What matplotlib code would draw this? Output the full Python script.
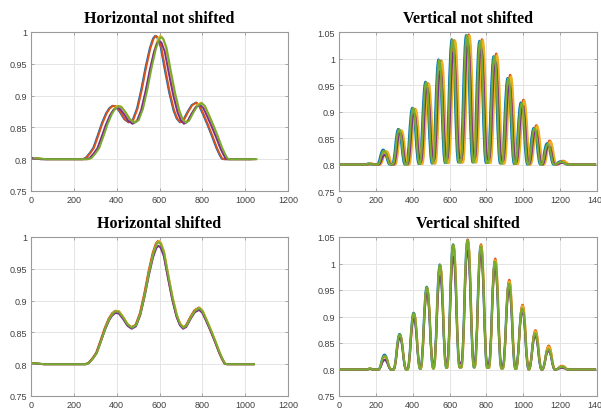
import matplotlib

matplotlib.use("Agg")
import matplotlib.pyplot as plt
from matplotlib.patches import PathPatch
from matplotlib.path import Path
from matplotlib.transforms import Affine2D

# MATLAB default line order: blue, orange, yellow, purple, green
series_colors = ["#0072BD", "#D95319", "#EDB120", "#7E2F8E", "#77AC30"]

# horizontal profile
h_x = [0, 30, 60, 150, 255, 270, 290, 306, 325, 345, 365, 380, 395, 410, 430,
       450, 470, 490, 510, 530, 550, 570, 585, 595, 605, 620, 640, 660, 680,
       695, 710, 725, 745, 765, 785, 800, 820, 840, 860, 880, 895, 905, 915, 1040]
h_y = [0.802, 0.801, 0.800, 0.800, 0.800, 0.802, 0.810, 0.818, 0.836, 0.856,
       0.872, 0.880, 0.884, 0.883, 0.874, 0.863, 0.858, 0.862, 0.880, 0.910,
       0.945, 0.975, 0.990, 0.994, 0.991, 0.977, 0.940, 0.905, 0.877, 0.864,
       0.858, 0.861, 0.874, 0.885, 0.889, 0.884, 0.869, 0.853, 0.836, 0.818,
       0.807, 0.801, 0.800, 0.800]
# per-series x offset and amplitude above the 0.8 baseline
h_offset_raw = [-15, -12, 9, 4, 13]
h_offset_aligned = [0, -2, 2, 0, 1]
h_amp = [1.0, 1.0, 1.0, 0.96, 0.99]

# vertical profile: peak positions, heights per series, trough levels
v_peak_x = [168, 248, 330, 406, 477, 548, 620, 698, 770, 847, 923, 995, 1065, 1137, 1210]
v_peak_blue = [0.802, 0.828, 0.867, 0.907, 0.956, 0.998, 1.036, 1.044, 1.033, 1.004,
               0.963, 0.917, 0.869, 0.840, 0.806]
v_peak_orange = [0.802, 0.824, 0.864, 0.905, 0.953, 0.996, 1.034, 1.045, 1.036, 1.009,
                 0.969, 0.922, 0.874, 0.845, 0.807]
v_peak_yellow = [0.802, 0.825, 0.864, 0.904, 0.952, 0.994, 1.033, 1.043, 1.034, 1.006,
                 0.966, 0.920, 0.872, 0.843, 0.806]
v_peak_purple = [0.801, 0.818, 0.860, 0.896, 0.944, 0.976, 1.012, 1.025, 1.018, 0.993,
                 0.950, 0.910, 0.863, 0.835, 0.803]
v_peak_green = [0.802, 0.826, 0.866, 0.906, 0.955, 0.997, 1.035, 1.043, 1.032, 1.003,
                0.962, 0.915, 0.868, 0.838, 0.805]
v_trough = [0.800, 0.800, 0.800, 0.801, 0.802, 0.803, 0.804, 0.804, 0.803, 0.802,
            0.801, 0.800, 0.800, 0.800]
v_trough_purple = [0.800, 0.800, 0.801, 0.804, 0.807, 0.810, 0.812, 0.812, 0.810, 0.807,
                   0.804, 0.801, 0.800, 0.800]
v_offset_raw = [-8, 6, 10, 1, -4]
v_offset_aligned = [-1, 1, 1, 0, 0]
v_x_end = 1395

h_xticks = [0, 200, 400, 600, 800, 1000, 1200]
h_yticks = [0.75, 0.8, 0.85, 0.9, 0.95, 1.0]
h_ylabels = ["0.75", "0.8", "0.85", "0.9", "0.95", "1"]
v_xticks = [0, 200, 400, 600, 800, 1000, 1200, 1400]
v_yticks = [0.75, 0.8, 0.85, 0.9, 0.95, 1.0, 1.05]
v_ylabels = ["0.75", "0.8", "0.85", "0.9", "0.95", "1", "1.05"]

plt.rcParams["font.family"] = ["Liberation Sans", "DejaVu Sans"]


def style_axes(ax, title, xticks, yticks, ylabels):
    ax.set_xlim(xticks[0], xticks[-1])
    ax.set_ylim(yticks[0], yticks[-1])
    ax.set_xticks(xticks)
    ax.set_xticklabels([str(t) for t in xticks])
    ax.set_yticks(yticks)
    ax.set_yticklabels(ylabels)
    ax.grid(True, color="#e4e4e4", linewidth=0.7)
    ax.set_axisbelow(True)
    ax.tick_params(direction="in", length=2.5, width=0.6, color="#9a9a9a",
                   labelcolor="#404040", labelsize=6.5, top=True, right=True, pad=3)
    for spine in ax.spines.values():
        spine.set_color("#9a9a9a")
        spine.set_linewidth(0.8)
    ax.set_title(title, family="Liberation Serif", fontweight="bold", fontsize=11.5, pad=7)


def draw_horizontal(ax, offsets):
    for color, dx, amp in zip(series_colors, offsets, h_amp):
        tr = Affine2D().translate(0, -0.8).scale(1, amp).translate(dx, 0.8) + ax.transData
        ax.plot(h_x, h_y, color=color, linewidth=1.4, transform=tr)


def bump_path(peaks_x, heights, troughs, dx):
    verts = [(0, 0.8)]
    codes = [Path.MOVETO]
    n = len(peaks_x)
    for i in range(n):
        px = peaks_x[i] + dx
        h = heights[i]
        w = 15 if i == 0 else 35
        left_y = troughs[i - 1] if i > 0 else 0.8
        right_y = troughs[i] if i < n - 1 else 0.8
        verts += [(px - w, left_y),
                  (px - 0.55 * w, left_y), (px - 0.45 * w, h), (px, h),
                  (px + 0.45 * w, h), (px + 0.55 * w, right_y), (px + w, right_y)]
        codes += [Path.LINETO] + [Path.CURVE4] * 6
    verts.append((v_x_end, 0.8))
    codes.append(Path.LINETO)
    return Path(verts, codes)


def draw_vertical(ax, offsets):
    peaks = [v_peak_blue, v_peak_orange, v_peak_yellow, v_peak_purple, v_peak_green]
    troughs = [v_trough, v_trough, v_trough, v_trough_purple, v_trough]
    for color, heights, tr, dx in zip(series_colors, peaks, troughs, offsets):
        patch = PathPatch(bump_path(v_peak_x, heights, tr, dx), fill=False,
                          edgecolor=color, linewidth=1.5)
        ax.add_patch(patch)


fig = plt.figure(figsize=(6.01, 4.10), dpi=100)
ax_tl = fig.add_axes([31 / 601, 1 - 192 / 410, 257 / 601, 159 / 410])
ax_tr = fig.add_axes([339 / 601, 1 - 192 / 410, 258 / 601, 159 / 410])
ax_bl = fig.add_axes([31 / 601, 1 - 397 / 410, 257 / 601, 159 / 410])
ax_br = fig.add_axes([339 / 601, 1 - 397 / 410, 258 / 601, 159 / 410])

draw_horizontal(ax_tl, h_offset_raw)
draw_horizontal(ax_bl, h_offset_aligned)
draw_vertical(ax_tr, v_offset_raw)
draw_vertical(ax_br, v_offset_aligned)

style_axes(ax_tl, "Horizontal not shifted", h_xticks, h_yticks, h_ylabels)
style_axes(ax_bl, "Horizontal shifted", h_xticks, h_yticks, h_ylabels)
style_axes(ax_tr, "Vertical not shifted", v_xticks, v_yticks, v_ylabels)
style_axes(ax_br, "Vertical shifted", v_xticks, v_yticks, v_ylabels)

fig.savefig("out.png", dpi=100)
